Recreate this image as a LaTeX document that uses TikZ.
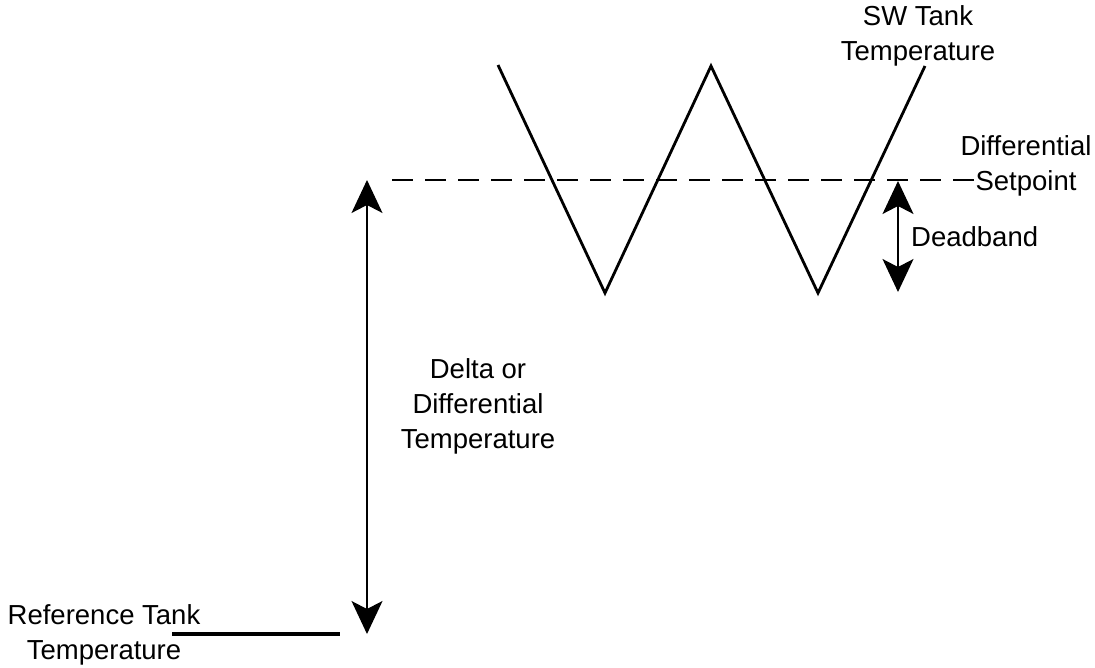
\documentclass[tikz,border=0pt]{standalone}
\usepackage{fontspec}
\setmainfont{Liberation Sans}
\usetikzlibrary{arrows.meta}

\tikzset{
  lbl/.style={align=center, inner sep=0pt, font=\fontsize{27.5}{35}\selectfont},
  bigtip/.tip={Stealth[length=33pt,width=31pt,inset=8pt]},
  spanarrow/.style={bigtip-bigtip, line width=1.3pt},
}

\begin{document}
\begin{tikzpicture}[x=1pt,y=-1pt]
    \useasboundingbox (0,0) rectangle (1095,667);

    % sw tank temperature swings
    \foreach \n/\x/\y in {1/498/65, 2/605/293, 3/711/66, 4/818/293, 5/925/66} {
      \coordinate (z\n) at (\x,\y);
    }
    \draw[line width=2.8pt] (z1) -- (z2) -- (z3) -- (z4) -- (z5);

    % setpoint
    \coordinate (sp-l) at (392,180);
    \coordinate (sp-r) at (976,180);
    \draw[line width=2.4pt, dash pattern=on 21pt off 12pt] (sp-l) -- (sp-r);

    % reference level
    \coordinate (ref-l) at (172,634);
    \coordinate (ref-r) at (340,634);
    \draw[line width=3.6pt] (ref-l) -- (ref-r);

    \coordinate (delta-top) at (367,180);
    \coordinate (delta-bot) at (367,634);
    \draw[spanarrow] (delta-top) -- (delta-bot);

    \coordinate (db-top) at (898,181);
    \coordinate (db-bot) at (898,292);
    \draw[spanarrow] (db-top) -- (db-bot);

    \node[lbl] (swtemp) at (918,36) {SW Tank\\Temperature};
    \node[lbl] (setpt) at (1026,166) {Differential\\Setpoint};
    \node[lbl, anchor=west] (dband) at (911,237) {Deadband};
    \node[lbl] (delta) at (478,406) {Delta or\\Differential\\Temperature};
    \node[lbl] (reftemp) at (104,635) {Reference Tank\\Temperature};
\end{tikzpicture}
\end{document}
